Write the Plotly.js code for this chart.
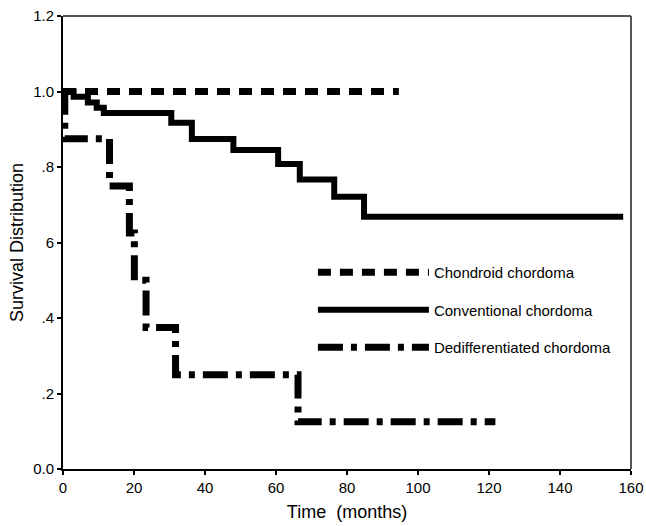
<!DOCTYPE html>
<html>
<head>
<meta charset="utf-8">
<script src="https://cdn.plot.ly/plotly-3.0.1.min.js"></script>
<style>html,body{margin:0;padding:0;background:#fff;}#chart{width:646px;height:526px;}</style>
</head>
<body>
<div id="chart"></div>
<script>
// Kaplan-Meier step points (time in months, survival)
const chondroidTime = [0, 94.6];
const chondroidSurv = [1.0, 1.0];

const conventionalTime = [0, 3, 7, 9.5, 11.5, 30.5, 36.3, 48, 60.6, 66.7, 76.4, 84.8, 157.8];
const conventionalSurv = [1.0, 0.986, 0.971, 0.957, 0.943, 0.917, 0.874, 0.845, 0.808, 0.767, 0.721, 0.668, 0.668];

const dediffTime = [0, 0.5, 13.1, 18.7, 20.1, 23.4, 31.7, 66.2, 121.8];
const dediffSurv = [1.0, 0.875, 0.75, 0.625, 0.5, 0.375, 0.25, 0.125, 0.125];

const seriesNames = ["Chondroid chordoma", "Conventional chordoma", "Dedifferentiated chordoma"];
const yTickVals = [0, 0.2, 0.4, 0.6, 0.8, 1.0, 1.2];
const yTickText = ["0.0", ".2", ".4", "6", ".8", "1.0", "1.2"];
const xTickVals = [0, 20, 40, 60, 80, 100, 120, 140, 160];

const font = "Liberation Sans, Arial, Helvetica, sans-serif";

const traces = [
  {x: chondroidTime, y: chondroidSurv, name: seriesNames[0], type: "scatter", mode: "lines",
   line: {shape: "hv", color: "#000", width: 7, dash: "13px,9px"}, legendgroup: "a"},
  {x: conventionalTime, y: conventionalSurv, name: seriesNames[1], type: "scatter", mode: "lines",
   line: {shape: "hv", color: "#000", width: 6}, legendgroup: "b"},
  {x: dediffTime, y: dediffSurv, name: seriesNames[2], type: "scatter", mode: "lines",
   line: {shape: "hv", color: "#000", width: 7, dash: "25px,8px,6px,8px"}, legendgroup: "c"}
];

const layout = {
  width: 646, height: 526,
  margin: {l: 63, r: 15, t: 16, b: 57},
  paper_bgcolor: "#fff", plot_bgcolor: "#fff",
  font: {family: font, color: "#000", size: 15},
  showlegend: true,
  legend: {x: 0.44, y: 0.47, xanchor: "left", yanchor: "top", bgcolor: "rgba(0,0,0,0)",
           font: {family: font, size: 15, color: "#000"}, itemwidth: 111,
           traceorder: "grouped", tracegroupgap: 15},
  xaxis: {range: [0, 160], tickvals: xTickVals, ticks: "outside", ticklen: 4, tickwidth: 2, tickcolor: "#000",
          showline: true, linecolor: "#000", linewidth: 2, showgrid: false, zeroline: false,
          ticklabeloverflow: "allow",
          tickfont: {size: 15}, title: {text: "Time\u00a0\u00a0(months)", font: {size: 18}, standoff: 10}},
  yaxis: {range: [0, 1.2], tickvals: yTickVals, ticktext: yTickText, ticks: "outside", ticklen: 4, tickwidth: 2, tickcolor: "#000",
          showline: true, linecolor: "#000", linewidth: 2, showgrid: false, zeroline: false,
          tickfont: {size: 15}, title: {text: "Survival Distribution", font: {size: 18}, standoff: 5}},
  shapes: [
    {type: "line", xref: "paper", yref: "paper", x0: 0, x1: 1, y0: 1, y1: 1, line: {color: "#555", width: 2}, layer: "below"},
    {type: "line", xref: "paper", yref: "paper", x0: 1, x1: 1, y0: 0, y1: 1, line: {color: "#555", width: 2}, layer: "below"}
  ]
};

Plotly.newPlot("chart", traces, layout, {displayModeBar: false, staticPlot: true});
</script>
</body>
</html>
